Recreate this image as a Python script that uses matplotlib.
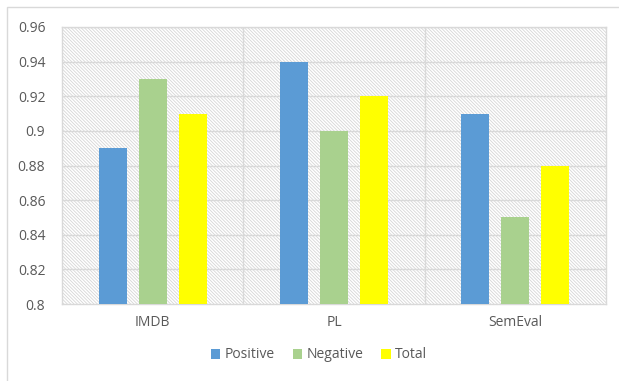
import numpy as np
import matplotlib.pyplot as plt
from matplotlib.patches import Rectangle

plt.rcParams["font.family"] = ["Open Sans", "DejaVu Sans"]
plt.rcParams["hatch.linewidth"] = 0.6
plt.rcParams["hatch.color"] = "#D6D6D6"

datasets = ["IMDB", "PL", "SemEval"]
positive = [0.89, 0.94, 0.91]
negative = [0.93, 0.90, 0.85]
total = [0.91, 0.92, 0.88]
series_names = ["Positive", "Negative", "Total"]
colors = ["#5B9BD5", "#A9D18E", "#FFFF00"]
yticks = [0.8, 0.82, 0.84, 0.86, 0.88, 0.9, 0.92, 0.94, 0.96]

text_col = "#595959"
grid_col = "#D9D9D9"

fig = plt.figure(figsize=(6.19, 3.81), dpi=100)
ax = fig.add_axes([62 / 619, 1 - 304 / 381, (606 - 62) / 619, (304 - 27) / 381])

# outer chart border (left and top edges visible)
fig.patches.append(Rectangle((7 / 619, -0.1), 1.2, 1 - 7 / 381 + 0.1,
                             transform=fig.transFigure, fill=False,
                             edgecolor="#D9D9D9", lw=1.0))

# hatched plot background
ax.add_patch(Rectangle((0, 0), 1, 1, transform=ax.transAxes, facecolor="white",
                       edgecolor="#D6D6D6", hatch="\\" * 10, lw=0, zorder=0))

x = np.arange(len(datasets))
w = 0.155
offsets = [-0.22, 0, 0.22]
for vals, name, col, off in zip([positive, negative, total], series_names, colors, offsets):
    ax.bar(x + off, [v - 0.8 for v in vals], w, bottom=0.8, color=col,
           label=name, zorder=3)

ax.set_xlim(-0.5, 2.5)
ax.set_ylim(0.8, 0.96)
ax.set_yticks(yticks)
ax.set_yticklabels(["{:g}".format(t) for t in yticks])
ax.set_xticks(x)
ax.set_xticklabels(datasets)
ax.tick_params(length=0, colors=text_col, labelsize=10)
ax.tick_params(axis="y", pad=12)
ax.tick_params(axis="x", pad=8)

for yv in yticks[1:]:
    ax.axhline(yv, color=grid_col, lw=1.0, zorder=1)
for xv in [0.5, 1.5]:
    ax.axvline(xv, color=grid_col, lw=1.0, zorder=1)
for s in ax.spines.values():
    s.set_color(grid_col)
    s.set_linewidth(1.0)

fig.legend(loc="center", bbox_to_anchor=(319 / 619, 1 - 355 / 381), ncol=3,
           frameon=False, fontsize=10, handlelength=0.7, handleheight=0.7,
           handletextpad=0.3, columnspacing=1.3, labelcolor=text_col)

fig.savefig("out.png", dpi=100)
